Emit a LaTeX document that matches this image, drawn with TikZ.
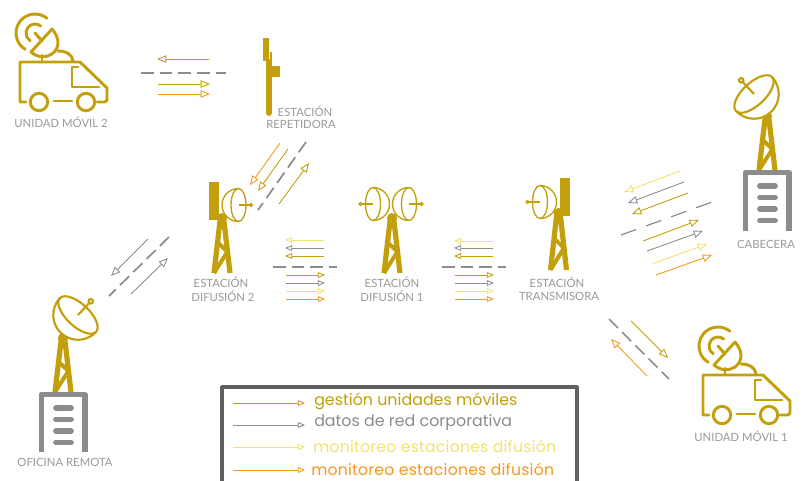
\documentclass[tikz,border=0pt]{standalone}
\usepackage{fontspec}
\setmainfont{Lato}
\newfontfamily\legendfont{Poppins}
\newfontfamily\legendwide[LetterSpace=1.45]{Poppins}
\usetikzlibrary{arrows.meta}
\definecolor{gold}{HTML}{C29F0B}
\definecolor{midgrey}{HTML}{8C8C8C}
\definecolor{labelgrey}{HTML}{9A9A9A}
\definecolor{lightyellow}{HTML}{F4E26A}
\definecolor{flame}{HTML}{F7981D}
\definecolor{boxgrey}{HTML}{606060}
\tikzset{
  flowline/.style={line width=.65pt,-{Triangle[open,length=7pt,width=5.6pt]}},
  smallflow/.style={line width=.65pt,-{Triangle[open,length=5.4pt,width=4.4pt]}},
  link/.style={draw=midgrey,line width=1.3pt,dash pattern=on 9.5pt off 4.5pt},
  thinlink/.style={draw=midgrey,line width=.9pt,dash pattern=on 12pt off 8pt},
  sitelabel/.style={text=labelgrey,font=\fontsize{8.5}{10}\selectfont,inner sep=0pt},
  legendtext/.style={anchor=west,inner sep=0pt,font=\legendfont\fontsize{11.9}{13}\selectfont},
  legendlong/.style={anchor=west,inner sep=0pt,font=\legendwide\fontsize{11.75}{13}\selectfont},
}
\newcommand\flow[4]{\coordinate (#1a) at (#2); \coordinate (#1b) at (#3); \draw[#4] (#1a) -- (#1b);}
\newcommand\dashlink[4]{\coordinate (#1a) at (#2); \coordinate (#1b) at (#3); \draw[#4] (#1a) -- (#1b);}
% tower: apex x, apex y, height
\newcommand\towerat[3]{\begin{scope}[shift={(#1,#2)},draw=gold,line width=3.9pt]
  \fill[gold] (0,1) circle[radius=5];
  \draw (-1.5,0) -- (-8,#3) (1.5,0) -- (8,#3);
  \draw[line width=3pt,line join=miter] (-8,#3) -- (5.4,{.62*#3}) -- (-4.5,{.45*#3});
\end{scope}}
% dish: x, y, rotation, scale, line width
\newcommand\dishat[5]{\begin{scope}[shift={(#1,#2)},rotate=#3,scale=#4,draw=gold,line width=#5]
  \fill[white] (0,-16.5) arc[start angle=-90,end angle=-270,radius=16.5] -- cycle;
  \draw (0,-16.5) arc[start angle=-90,end angle=-270,radius=16.5];
  \draw (0,0) ellipse[x radius=7.5,y radius=16.5];
  \draw (0,0) -- (11,0);
  \draw[fill=white] (12.5,0) circle[radius=1.5];
\end{scope}}
% building: left x, top y, bottom y
\newcommand\buildingat[3]{\begin{scope}[shift={(#1,#2)},draw=midgrey]
  \draw[line width=3.9pt,line join=round] (2.5,{#3-#2}) -- (2.5,2.5) -- (46,2.5) -- (46,{#3-#2});
  \draw[line width=4.3pt,line cap=round] (17,16) -- (32,16) (17,27.5) -- (32,27.5) (17,39) -- (32,39) (17,50.5) -- (32,50.5);
\end{scope}}
% van: offset x, y
\newcommand\vanat[2]{\begin{scope}[shift={(#1,#2)},draw=gold,line width=2.2pt,line cap=round,line join=round]
  \draw (26,102) -- (20,102) -- (20,62) -- (80,62) -- (107,88) -- (107,100) -- (105,102) -- (97,102);
  \draw (39,102) circle[radius=8.7] (86,102) circle[radius=8.7];
  \draw (54,101) -- (72,101);
  \draw (78,67) -- (72,67) -- (72,87) -- (99,87);
  \draw (58,51) .. controls (66,51) and (72,54) .. (73,61);
  \draw (42,55) -- (42,62);
  \draw (31,52) -- (52,29) .. controls (60,38) and (60,48) .. (52,54) .. controls (46,58) and (38,58) .. (31,52) -- cycle;
  \draw (35,33) -- (42,41);
  \draw (35,33) ++(-51:9) arc[start angle=-51,end angle=-239,radius=9];
  \draw (35,33) ++(-51:19) arc[start angle=-51,end angle=-239,radius=19];
\end{scope}}
\begin{document}
\begin{tikzpicture}[x=.75pt,y=-.75pt]
\useasboundingbox (0,0) rectangle (803,480);
\fill[white] (0,0) rectangle (803,480);

% Unidad movil 2 / repetidora
\vanat{0}{0}
\node[sitelabel] (um2) at (61,122) {UNIDAD MÓVIL 2};
\fill[gold] (263,38) rectangle (269,61);
\fill[gold] (270,52) rectangle (272,64);
\draw[gold,line width=4.4pt,line cap=round] (269,62) -- (269,113);
\fill[gold] (270,66) rectangle (280,77);
\node[sitelabel] (rep1) at (305,111) {ESTACIÓN};
\node[sitelabel] (rep2) at (301,124) {REPETIDORA};

\flow{a1}{209,59}{157,59}{flowline,gold}
\dashlink{a2}{141,73}{226,73}{link}
\flow{a3}{158,84}{210,84}{flowline,gold}
\flow{a4}{158,94}{210,94}{flowline,flame}

% Difusion 2
\fill[gold] (209,182) rectangle (219,220);
\towerat{222}{217}{56}
\dishat{238.5}{205}{0}{1}{1pt}
\node[sitelabel] (d2a) at (221,282) {ESTACIÓN};
\node[sitelabel] (d2b) at (223,296) {DIFUSIÓN 2};

% Difusion 1
\towerat{392}{217}{56}
\dishat{373}{204}{180}{1}{1pt}
\dishat{409}{204}{0}{1}{1pt}
\node[sitelabel] (d1a) at (392,282) {ESTACIÓN};
\node[sitelabel] (d1b) at (392,296) {DIFUSIÓN 1};

% Transmisora
\fill[gold] (560,178) rectangle (570,216);
\towerat{558.5}{212}{58}
\dishat{540}{202}{180}{1}{1pt}
\node[sitelabel] (t1) at (557,282) {ESTACIÓN};
\node[sitelabel] (t2) at (559,296) {TRANSMISORA};

% Cabecera
\towerat{767}{115}{55}
\dishat{754}{94}{133}{1.5}{1.6pt}
\buildingat{743}{170}{231}
\node[sitelabel] (cab) at (766,244) {CABECERA};

% Oficina remota
\towerat{63}{337}{55}
\dishat{78}{315}{47}{1.5}{1.6pt}
\buildingat{39}{392}{452}
\node[sitelabel] (ofi) at (65,462) {OFICINA REMOTA};

% Unidad movil 1
\vanat{683}{313}
\node[sitelabel] (um1) at (741,436) {UNIDAD MÓVIL 1};

% Repetidora - Difusion 2
\flow{b1}{280,143}{250,185}{flowline,flame}
\flow{b2}{288,149}{258,191}{flowline,gold}
\dashlink{b3}{306,142}{258,210}{link}
\flow{b4}{279,204}{309,163}{flowline,gold}

% Difusion 2 - Difusion 1
\flow{c1}{324,240}{285,240}{smallflow,lightyellow}
\flow{c2}{324,248}{285,248}{smallflow,midgrey}
\flow{c3}{324,256}{285,256}{smallflow,gold}
\dashlink{c4}{273,267}{337,267}{link,line width=.9pt}
\flow{c5}{286,275}{325,275}{smallflow,gold}
\flow{c6}{286,283}{325,283}{smallflow,midgrey}
\flow{c7}{286,291}{325,291}{smallflow,lightyellow}
\flow{c8}{286,299}{325,299}{smallflow,flame}

% Difusion 1 - Transmisora
\flow{d1}{493,241}{454,241}{smallflow,lightyellow}
\flow{d2}{493,248}{454,248}{smallflow,midgrey}
\flow{d3}{493,256}{454,256}{smallflow,gold}
\dashlink{d4}{442,267}{506,267}{link,line width=.9pt}
\flow{d5}{455,275}{494,275}{smallflow,gold}
\flow{d6}{455,283}{494,283}{smallflow,midgrey}
\flow{d7}{455,291}{494,291}{smallflow,lightyellow}
\flow{d8}{455,299}{494,299}{smallflow,flame}

% Transmisora - Cabecera
\flow{e1}{680,171}{624,192}{flowline,lightyellow}
\flow{e2}{684,182}{628,203}{flowline,midgrey}
\flow{e3}{688,193}{632,214}{flowline,gold}
\dashlink{e4}{621,235}{712,202}{thinlink}
\flow{e5}{643,241}{699,220}{flowline,gold}
\flow{e6}{647,251}{703,231}{flowline,midgrey}
\flow{e7}{652,264}{707,244}{flowline,lightyellow}
\flow{e8}{656,275}{712,255}{flowline,flame}

% Transmisora - Unidad movil 1
\dashlink{f1}{609,319}{669,379}{link}
\flow{f2}{631,321}{668,358}{flowline,gold}
\flow{f3}{647,376}{611,339}{flowline,flame}

% Difusion 2 - Oficina remota
\flow{g1}{148,239}{111,276}{flowline,midgrey}
\dashlink{g2}{169,237}{109,296}{link}
\flow{g3}{131,294}{168,258}{flowline,midgrey}

% Legend
\coordinate (boxa) at (222,483);
\coordinate (boxb) at (222,387);
\coordinate (boxc) at (577,387);
\coordinate (boxd) at (577,483);
\draw[boxgrey,line width=2.3pt,line join=round] (boxa) -- (boxb) -- (boxc) -- (boxd);
\flow{l1}{233,403}{305,403}{smallflow,gold}
\flow{l2}{233,425}{305,425}{smallflow,midgrey}
\flow{l3}{233,447}{305,447}{smallflow,lightyellow}
\flow{l4}{233,470}{305,470}{smallflow,flame}
\node[legendtext,text=gold] (t1l) at (314,401) {gestión unidades móviles};
\node[legendtext,text=midgrey] (t2l) at (314,423) {datos de red corporativa};
\node[legendlong,text=lightyellow] (t3l) at (313,446) {monitoreo estaciones difusión};
\node[legendlong,text=flame] (t4l) at (311,469) {monitoreo estaciones difusión};
\end{tikzpicture}
\end{document}
